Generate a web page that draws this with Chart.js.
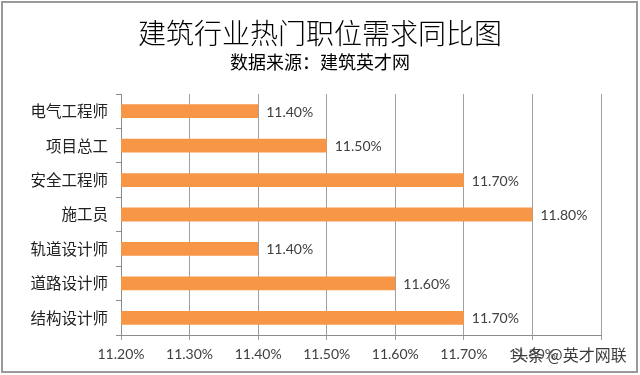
<!DOCTYPE html>
<html><head><meta charset="utf-8">
<script src="https://cdn.jsdelivr.net/npm/chart.js@4/dist/chart.umd.min.js"></script>
<style>html,body{margin:0;padding:0;background:#fff}#wrap{width:640px;height:375px;position:relative}</style>
</head><body><div id="wrap"><canvas id="c" width="640" height="375"></canvas></div>
<script>
const titleText = '建筑行业热门职位需求同比图';
const subtitleText = '数据来源：建筑英才网';
const categories = ['电气工程师','项目总工','安全工程师','施工员','轨道设计师','道路设计师','结构设计师'];
const values = [11.40, 11.50, 11.70, 11.80, 11.40, 11.60, 11.70];
const axisMin = 11.2, axisMax = 11.9, axisStep = 0.1;
const hiddenTickLabels = ['11.90%'];
const watermark = '头条 @英才网联';

const fmt = v => Number(v).toFixed(2) + '%';

const decor = {
  id: 'decor',
  afterDatasetsDraw(chart) {
    const ctx = chart.ctx;
    const meta = chart.getDatasetMeta(0);
    ctx.save();
    ctx.font = '14px Lato, "Liberation Sans", sans-serif';
    ctx.fillStyle = '#404040';
    ctx.textAlign = 'left';
    ctx.textBaseline = 'middle';
    meta.data.forEach((el, i) => {
      ctx.fillText(fmt(values[i]), el.x + 8, el.y + 1);
    });
    ctx.restore();
  },
  afterDraw(chart) {
    const ctx = chart.ctx;
    const cx = chart.width / 2;
    ctx.save();
    ctx.textAlign = 'center';
    ctx.textBaseline = 'middle';
    ctx.fillStyle = '#000';
    ctx.font = '300 28px "Noto Sans CJK SC", serif';
    ctx.fillText(titleText, cx, 33);
    ctx.font = '18px "Noto Sans CJK SC", sans-serif';
    ctx.fillText(subtitleText, cx, 62);
    ctx.restore();

    ctx.save();
    ctx.font = '16px "Noto Sans CJK SC", sans-serif';
    ctx.textAlign = 'left';
    ctx.textBaseline = 'middle';
    ctx.shadowColor = 'rgba(255,255,255,0.9)';
    ctx.shadowBlur = 3;
    ctx.fillStyle = '#3a3a3a';
    ctx.fillText(watermark, 512, 355);
    ctx.restore();

    ctx.save();
    ctx.strokeStyle = '#9a9a9a';
    ctx.lineWidth = 2;
    ctx.strokeRect(2, 2, 635, 370);
    ctx.restore();
  }
};

new Chart(document.getElementById('c'), {
  type: 'bar',
  data: {
    labels: categories,
    datasets: [{
      data: values,
      backgroundColor: '#F79646',
      borderWidth: 0,
      categoryPercentage: 0.4,
      barPercentage: 1.0
    }]
  },
  options: {
    indexAxis: 'y',
    responsive: false,
    animation: false,
    devicePixelRatio: 1,
    layout: { padding: { left: 0, right: 39, top: 94, bottom: 0 } },
    plugins: {
      legend: { display: false },
      tooltip: { enabled: false },
      title: { display: false },
      subtitle: { display: false }
    },
    scales: {
      x: {
        type: 'linear', min: axisMin, max: axisMax,
        afterFit(s) { s.height = 40; },
        ticks: {
          stepSize: axisStep, padding: 6, color: '#404040',
          font: { family: 'Lato, "Liberation Sans", sans-serif', size: 14 },
          callback: v => { const t = fmt(v); return hiddenTickLabels.includes(t) ? '' : t; }
        },
        grid: { color: '#a0a0a0', lineWidth: 1, tickLength: 5, drawTicks: true },
        border: { color: '#8c8c8c' }
      },
      y: {
        afterFit(s) { s.width = 121; },
        ticks: {
          padding: 8, color: '#202020',
          font: { family: '"Noto Sans CJK SC", sans-serif', size: 15.5 }
        },
        grid: { offset: true, drawOnChartArea: false, color: '#8c8c8c', tickLength: 5 },
        border: { color: '#8c8c8c' }
      }
    }
  },
  plugins: [decor]
});
</script>
</body></html>
